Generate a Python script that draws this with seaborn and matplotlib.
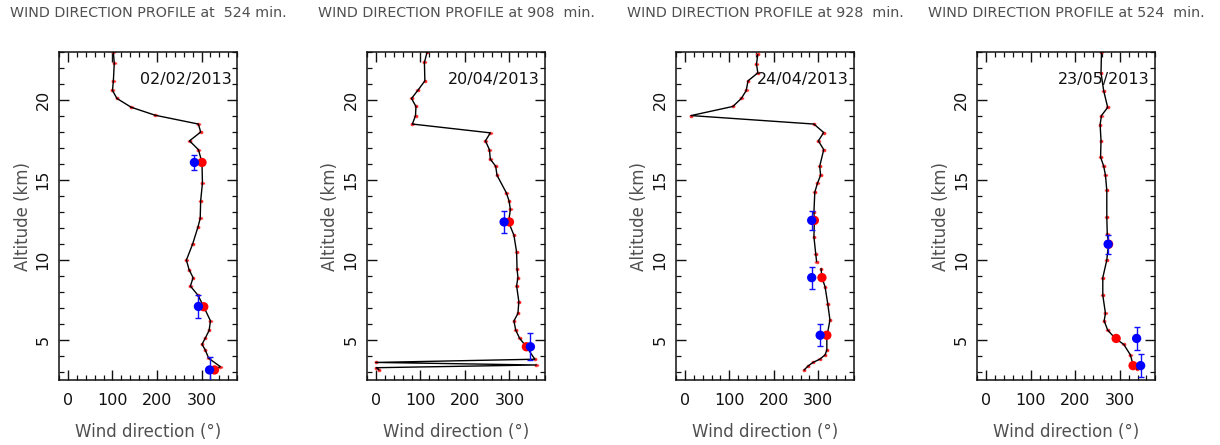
import matplotlib

matplotlib.use("Agg")

import matplotlib.pyplot as plt
import numpy as np
import pandas as pd
import seaborn as sns
from matplotlib.ticker import MultipleLocator

# ---- data ----
TITLES = [
    "WIND DIRECTION PROFILE at  524 min.",
    "WIND DIRECTION PROFILE at 908  min.",
    "WIND DIRECTION PROFILE at 928  min.",
    "WIND DIRECTION PROFILE at 524  min.",
]
DATES = ["02/02/2013", "20/04/2013", "24/04/2013", "23/05/2013"]

# profile 1 (02/02/2013)
alt_1 = [23.0, 22.3, 21.2, 20.6, 20.1, 19.55, 19.05, 18.5, 18.0, 17.45, 16.9, 16.1, 14.8, 13.7,
         12.6, 12.07, 11.0, 10.0, 9.4, 8.9, 8.37, 7.8, 7.08, 6.2, 5.6, 5.1, 4.73, 4.4, 3.86, 3.34, 3.13]
dir_1 = [102, 104, 102, 100, 110, 142, 196, 293, 298, 273, 293, 301, 302, 298,
         297, 292, 280, 266, 272, 281, 275, 292, 305, 320, 317, 308, 301, 308, 316, 342, 327]
seg_1 = [0] * len(alt_1)

# profile 2 (20/04/2013)
alt_2 = [23.0, 22.35, 21.2, 20.6, 20.1, 19.6, 19.03, 18.5, 17.95, 17.45, 16.9, 16.3, 15.87, 15.3,
         14.2, 13.7, 13.16, 12.38, 11.55, 10.5, 9.47, 8.9, 8.4, 7.4, 6.66, 6.2, 5.62, 5.1, 4.58,
         3.8, 3.6, 3.44, 3.27, 3.13]
dir_2 = [115, 109, 110, 94, 80, 90, 89, 82, 257, 246, 255, 257, 269, 272,
         293, 299, 302, 298, 310, 316, 317, 319, 316, 321, 319, 310, 314, 323, 338,
         357, 0, 360, 1, 7]
seg_2 = [0] * len(alt_2)

# profile 3 (24/04/2013) - broken near 9.7 km
alt_3 = [22.85, 22.25, 21.7, 21.2, 20.6, 20.1, 19.6, 19.03, 18.5, 17.97, 17.45, 16.9, 15.87, 15.3,
         14.8, 14.25, 13.0, 12.48, 11.45, 10.4, 9.9,
         9.47, 8.9, 8.33, 7.28, 6.25, 5.2, 4.38, 4.07, 3.8, 3.6, 3.38, 3.13]
dir_3 = [164, 161, 164, 142, 138, 127, 108, 14, 290, 312, 300, 312, 303, 305,
         298, 292, 290, 291, 290, 294, 296,
         306, 308, 315, 321, 326, 319, 319, 315, 303, 288, 277, 268]
seg_3 = [0] * 21 + [1] * 12

# profile 4 (23/05/2013)
alt_4 = [23.0, 21.7, 20.58, 19.54, 19.03, 18.47, 17.47, 16.43, 15.87, 15.3, 14.35, 12.7, 11.65,
         11.03, 10.0, 8.9, 7.8, 6.66, 6.2, 5.62, 5.1, 4.73, 4.07, 3.44, 3.17]
dir_4 = [259, 258, 264, 273, 259, 256, 258, 257, 264, 268, 271, 271, 272,
         275, 271, 262, 262, 268, 265, 273, 290, 309, 324, 330, 339]
seg_4 = [0] * len(alt_4)

# large red points (model) and blue points with error (observed)
red_alt = [[16.1, 7.08, 3.13], [12.38, 4.58], [12.48, 8.9, 5.3], [10.99, 5.1, 3.4]]
red_dir = [[301, 305, 329], [300, 338], [291, 308, 319], [275, 292, 330]]
blue_alt = [[16.1, 7.1, 3.13], [12.38, 4.58], [12.48, 8.9, 5.3], [10.99, 5.1, 3.4]]
blue_dir = [[284, 293, 318], [288, 347], [285, 285, 304], [274, 338, 347]]
blue_err = [[0.45, 0.7, 0.8], [0.68, 0.83], [0.58, 0.69, 0.7], [0.6, 0.7, 0.7]]

PROFILES = [(alt_1, dir_1, seg_1), (alt_2, dir_2, seg_2), (alt_3, dir_3, seg_3), (alt_4, dir_4, seg_4)]

AX_LEFT = [0.0484, 0.3008, 0.554, 0.801]
TEXT_GREY = "#505050"


def style_axis(ax):
    ax.set_xlim(-20, 380)
    ax.set_ylim(2.5, 23)
    ax.xaxis.set_major_locator(MultipleLocator(100))
    ax.xaxis.set_minor_locator(MultipleLocator(20))
    ax.yaxis.set_major_locator(MultipleLocator(5))
    ax.yaxis.set_minor_locator(MultipleLocator(1))
    ax.set_xticks([0, 100, 200, 300])
    ax.tick_params(which="both", direction="in", top=True, right=True, colors="#111111",
                   labelsize=11.5)
    ax.tick_params(which="major", length=7, width=1.0)
    ax.tick_params(which="minor", length=3.5, width=0.9)
    ax.tick_params(axis="x", pad=9)
    ax.tick_params(axis="y", pad=6)
    for label in ax.get_yticklabels():
        label.set_rotation(90)
        label.set_va("center")
    for spine in ax.spines.values():
        spine.set_linewidth(1.1)
        spine.set_color("#111111")
    ax.grid(False)


def main():
    sns.set_theme(style="ticks")
    plt.rcParams["font.family"] = ["DejaVu Sans"]
    fig = plt.figure(figsize=(12.2, 4.45), dpi=100)

    for i, (alts, dirs, segs) in enumerate(PROFILES):
        ax = fig.add_axes([AX_LEFT[i], 0.146, 0.146, 0.737])
        df = pd.DataFrame({"alt": alts, "dir": dirs, "seg": segs})
        sns.lineplot(data=df, x="dir", y="alt", units="seg", estimator=None, sort=False,
                     color="black", linewidth=1.0, ax=ax, zorder=3)
        ax.errorbar(df["dir"], df["alt"], xerr=3, fmt="o", ms=1.6, color="#ff2020",
                    elinewidth=0.7, capsize=1.0, zorder=2, alpha=0.75)

        ax.errorbar(blue_dir[i], blue_alt[i], yerr=blue_err[i], fmt="none", ecolor="#1010ff",
                    elinewidth=1.0, capsize=2, zorder=4)
        sns.scatterplot(x=red_dir[i], y=red_alt[i], color="#ff0000", s=45, edgecolor="none",
                        ax=ax, zorder=5)
        sns.scatterplot(x=blue_dir[i], y=blue_alt[i], color="#0000ff", s=45, edgecolor="none",
                        ax=ax, zorder=6)

        style_axis(ax)
        ax.set_xlabel("Wind direction (°)", color=TEXT_GREY, fontsize=12, labelpad=11)
        ax.set_ylabel("Altitude (km)", color=TEXT_GREY, fontsize=12, labelpad=3)
        ax.set_title(TITLES[i], color=TEXT_GREY, fontsize=10.3, pad=25)
        ax.text(0.97, 0.915, DATES[i], transform=ax.transAxes, ha="right", va="center",
                fontsize=11.5, color="#111111")

    fig.savefig("out.png", dpi=100)
    plt.close(fig)


if __name__ == "__main__":
    main()
